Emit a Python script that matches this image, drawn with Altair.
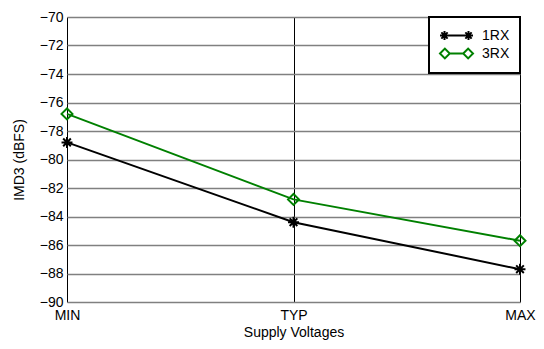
import altair as alt
import pandas as pd

voltages = ["MIN", "TYP", "MAX"]
rx1 = [-78.8, -84.4, -87.7]
rx3 = [-76.8, -82.8, -85.7]
series_names = ["1RX", "3RX"]
series_colors = ["#000000", "#008000"]
y_ticks = list(range(-90, -69, 2))

rows = []
for name, vals in zip(series_names, [rx1, rx3]):
    for v, val in zip(voltages, vals):
        rows.append({"series": name, "voltage": v, "value": val})
df = pd.DataFrame(rows)

AST = "M-1,0L1,0M0,-1L0,1M-0.7,-0.7L0.7,0.7M-0.7,0.7L0.7,-0.7"
DIA = "M-1,0L0,-1L1,0L0,1Z"


def ast_at(c, r):
    d = round(r * 0.7, 3)
    return (f"M{c-r},0L{c+r},0M{c},{-r}L{c},{r}"
            f"M{c-d},{-d}L{c+d},{d}M{c-d},{d}L{c+d},{-d}")


def dia_at(c, r):
    return f"M{c-r},0L{c},{-r}L{c+r},0L{c},{r}Z"


LEG_AST = ast_at(-0.4, 0.6) + ast_at(2.8, 0.6) + "M-0.4,0L2.8,0"
LEG_DIA = dia_at(-0.35, 0.65) + dia_at(2.75, 0.65) + "M0.3,0L2.1,0"

x_enc = alt.X(
    "voltage:N", sort=voltages,
    scale=alt.Scale(type="point", padding=0),
    axis=alt.Axis(title="Supply Voltages", labelAngle=0, grid=True,
                  gridColor="black", gridWidth=1, gridOpacity=1, domain=False,
                  ticks=False, labelPadding=6, titlePadding=3),
)
y_enc = alt.Y(
    "value:Q",
    scale=alt.Scale(domain=[-90, -70], nice=False, zero=False),
    axis=alt.Axis(values=y_ticks, title="IMD3 (dBFS)", grid=True,
                  gridColor="#808080", gridWidth=1.5, gridOpacity=1, domain=False,
                  ticks=False, labelPadding=4, titlePadding=13),
)

color_scale = alt.Scale(domain=series_names, range=series_colors)

lines = alt.Chart(df).mark_line(strokeWidth=2).encode(
    x=x_enc, y=y_enc,
    color=alt.Color("series:N", scale=color_scale, legend=None),
)

points = alt.Chart(df).mark_point(filled=False, opacity=1, strokeWidth=2).encode(
    x=x_enc, y=y_enc,
    color=alt.Color("series:N", scale=color_scale, legend=None),
    shape=alt.Shape("series:N", scale=alt.Scale(domain=series_names, range=[AST, DIA]), legend=None),
    size=alt.value(120),
)

leg_props = dict(title=None, orient="top-right", offset=0, padding=10,
                 strokeColor="black", fillColor="white", labelFontSize=14,
                 symbolSize=225, symbolStrokeWidth=2, labelOffset=26,
                 rowPadding=0, symbolOpacity=1)

legend_layer = alt.Chart(df).mark_point(filled=False, opacity=1, strokeWidth=2).encode(
    x=x_enc, y=y_enc,
    color=alt.Color("series:N", scale=color_scale, legend=alt.Legend(**leg_props)),
    shape=alt.Shape("series:N", scale=alt.Scale(domain=series_names, range=[LEG_AST, LEG_DIA]),
                    legend=alt.Legend(**leg_props)),
).transform_filter("false")

chart = alt.layer(lines, points, legend_layer).resolve_scale(
    color="independent", shape="independent"
).properties(
    width=453, height=285, autosize="none",
    padding={"left": 59, "top": 9, "right": 16, "bottom": 39},
).configure_view(
    stroke="black", strokeWidth=2.5
).configure(
    font="Liberation Sans"
).configure_axis(
    labelFontSize=14, titleFontSize=14, titleFontWeight="normal",
    labelColor="black", titleColor="black",
).configure_legend(
    strokeWidth=2
)

chart.save("out.html", embed_options={"renderer": "svg", "actions": False})
